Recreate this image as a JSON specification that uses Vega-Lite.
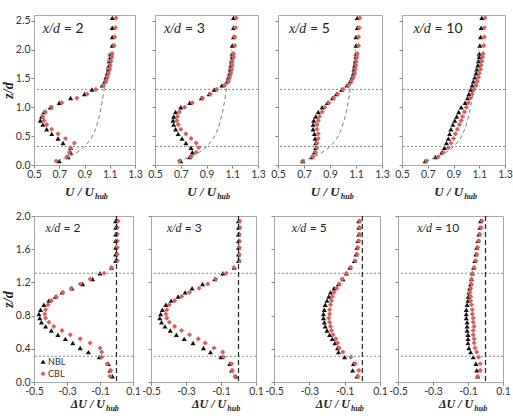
{
 "$schema": "https://vega.github.io/schema/vega-lite/v6.json",
 "padding": {"left": 0, "top": 14, "right": 0, "bottom": 2},
 "background": "white",
 "config": {
  "view": {"stroke": "#a6a6a6", "strokeWidth": 1},
  "axis": {"grid": false, "domainColor": "#a6a6a6", "tickColor": "#808080", "tickSize": 3, "labelFont": "Lato", "labelFontSize": 10.5, "labelColor": "#333333", "labelFlush": false, "labelOverlap": false, "labelBound": false, "labelPadding": 1, "titleFont": "Liberation Serif", "titleFontStyle": "italic", "titleFontWeight": "bold", "titleFontSize": 14, "titleColor": "#222222", "titlePadding": 0},
  "point": {"filled": true, "opacity": 1, "size": 26},
  "text": {"color": "#222222"}
 },
 "datasets": {
  "inflow": [
   {"v":0.68,"z":0.07},{"v":0.75,"z":0.12},{"v":0.82,"z":0.19},{"v":0.87,"z":0.26},{"v":0.91,"z":0.34},{"v":0.95,"z":0.45},{"v":0.98,"z":0.58},{"v":1.005,"z":0.74},{"v":1.025,"z":0.92},{"v":1.04,"z":1.1},{"v":1.055,"z":1.3},{"v":1.065,"z":1.5},{"v":1.08,"z":1.75},{"v":1.095,"z":2.0}
  ],
  "top": [
   {"p":1,"s":"NBL","z":0.07,"v":0.70},{"p":1,"s":"NBL","z":0.14,"v":0.77},{"p":1,"s":"NBL","z":0.22,"v":0.79},{"p":1,"s":"NBL","z":0.30,"v":0.79},{"p":1,"s":"NBL","z":0.38,"v":0.73},{"p":1,"s":"NBL","z":0.46,"v":0.69},{"p":1,"s":"NBL","z":0.54,"v":0.64},{"p":1,"s":"NBL","z":0.62,"v":0.60},{"p":1,"s":"NBL","z":0.70,"v":0.57},{"p":1,"s":"NBL","z":0.77,"v":0.55},{"p":1,"s":"NBL","z":0.84,"v":0.56},{"p":1,"s":"NBL","z":0.92,"v":0.58},{"p":1,"s":"NBL","z":1.00,"v":0.63},{"p":1,"s":"NBL","z":1.08,"v":0.70},{"p":1,"s":"NBL","z":1.16,"v":0.79},{"p":1,"s":"NBL","z":1.23,"v":0.90},{"p":1,"s":"NBL","z":1.31,"v":0.96},{"p":1,"s":"NBL","z":1.38,"v":1.04},{"p":1,"s":"NBL","z":1.45,"v":1.06},{"p":1,"s":"NBL","z":1.52,"v":1.07},{"p":1,"s":"NBL","z":1.59,"v":1.08},{"p":1,"s":"NBL","z":1.66,"v":1.09},{"p":1,"s":"NBL","z":1.73,"v":1.095},{"p":1,"s":"NBL","z":1.80,"v":1.10},{"p":1,"s":"NBL","z":1.87,"v":1.105},{"p":1,"s":"NBL","z":1.93,"v":1.11},{"p":1,"s":"NBL","z":2.07,"v":1.12},{"p":1,"s":"NBL","z":2.22,"v":1.12},{"p":1,"s":"NBL","z":2.38,"v":1.12},{"p":1,"s":"NBL","z":2.55,"v":1.12},
   {"p":1,"s":"CBL","z":0.07,"v":0.675},{"p":1,"s":"CBL","z":0.14,"v":0.76},{"p":1,"s":"CBL","z":0.22,"v":0.78},{"p":1,"s":"CBL","z":0.30,"v":0.79},{"p":1,"s":"CBL","z":0.38,"v":0.82},{"p":1,"s":"CBL","z":0.46,"v":0.75},{"p":1,"s":"CBL","z":0.54,"v":0.69},{"p":1,"s":"CBL","z":0.62,"v":0.64},{"p":1,"s":"CBL","z":0.70,"v":0.60},{"p":1,"s":"CBL","z":0.77,"v":0.58},{"p":1,"s":"CBL","z":0.84,"v":0.57},{"p":1,"s":"CBL","z":0.92,"v":0.59},{"p":1,"s":"CBL","z":1.00,"v":0.64},{"p":1,"s":"CBL","z":1.08,"v":0.72},{"p":1,"s":"CBL","z":1.16,"v":0.84},{"p":1,"s":"CBL","z":1.23,"v":0.92},{"p":1,"s":"CBL","z":1.31,"v":0.99},{"p":1,"s":"CBL","z":1.38,"v":1.05},{"p":1,"s":"CBL","z":1.45,"v":1.07},{"p":1,"s":"CBL","z":1.52,"v":1.08},{"p":1,"s":"CBL","z":1.59,"v":1.09},{"p":1,"s":"CBL","z":1.66,"v":1.10},{"p":1,"s":"CBL","z":1.73,"v":1.105},{"p":1,"s":"CBL","z":1.80,"v":1.11},{"p":1,"s":"CBL","z":1.87,"v":1.115},{"p":1,"s":"CBL","z":1.93,"v":1.12},{"p":1,"s":"CBL","z":2.07,"v":1.135},{"p":1,"s":"CBL","z":2.22,"v":1.14},{"p":1,"s":"CBL","z":2.38,"v":1.145},{"p":1,"s":"CBL","z":2.55,"v":1.15},
   {"p":2,"s":"NBL","z":0.07,"v":0.70},{"p":2,"s":"NBL","z":0.14,"v":0.77},{"p":2,"s":"NBL","z":0.22,"v":0.79},{"p":2,"s":"NBL","z":0.30,"v":0.78},{"p":2,"s":"NBL","z":0.38,"v":0.74},{"p":2,"s":"NBL","z":0.46,"v":0.71},{"p":2,"s":"NBL","z":0.54,"v":0.68},{"p":2,"s":"NBL","z":0.62,"v":0.66},{"p":2,"s":"NBL","z":0.70,"v":0.645},{"p":2,"s":"NBL","z":0.77,"v":0.64},{"p":2,"s":"NBL","z":0.84,"v":0.645},{"p":2,"s":"NBL","z":0.92,"v":0.66},{"p":2,"s":"NBL","z":1.00,"v":0.70},{"p":2,"s":"NBL","z":1.08,"v":0.77},{"p":2,"s":"NBL","z":1.16,"v":0.86},{"p":2,"s":"NBL","z":1.23,"v":0.92},{"p":2,"s":"NBL","z":1.31,"v":0.96},{"p":2,"s":"NBL","z":1.38,"v":1.02},{"p":2,"s":"NBL","z":1.45,"v":1.06},{"p":2,"s":"NBL","z":1.52,"v":1.07},{"p":2,"s":"NBL","z":1.59,"v":1.08},{"p":2,"s":"NBL","z":1.66,"v":1.085},{"p":2,"s":"NBL","z":1.73,"v":1.09},{"p":2,"s":"NBL","z":1.80,"v":1.095},{"p":2,"s":"NBL","z":1.87,"v":1.10},{"p":2,"s":"NBL","z":1.93,"v":1.10},{"p":2,"s":"NBL","z":2.07,"v":1.10},{"p":2,"s":"NBL","z":2.22,"v":1.11},{"p":2,"s":"NBL","z":2.38,"v":1.11},{"p":2,"s":"NBL","z":2.55,"v":1.11},
   {"p":2,"s":"CBL","z":0.07,"v":0.69},{"p":2,"s":"CBL","z":0.14,"v":0.78},{"p":2,"s":"CBL","z":0.22,"v":0.82},{"p":2,"s":"CBL","z":0.30,"v":0.84},{"p":2,"s":"CBL","z":0.38,"v":0.82},{"p":2,"s":"CBL","z":0.46,"v":0.78},{"p":2,"s":"CBL","z":0.54,"v":0.74},{"p":2,"s":"CBL","z":0.62,"v":0.70},{"p":2,"s":"CBL","z":0.70,"v":0.68},{"p":2,"s":"CBL","z":0.77,"v":0.67},{"p":2,"s":"CBL","z":0.84,"v":0.675},{"p":2,"s":"CBL","z":0.92,"v":0.69},{"p":2,"s":"CBL","z":1.00,"v":0.73},{"p":2,"s":"CBL","z":1.08,"v":0.79},{"p":2,"s":"CBL","z":1.16,"v":0.87},{"p":2,"s":"CBL","z":1.23,"v":0.93},{"p":2,"s":"CBL","z":1.31,"v":0.98},{"p":2,"s":"CBL","z":1.38,"v":1.04},{"p":2,"s":"CBL","z":1.45,"v":1.07},{"p":2,"s":"CBL","z":1.52,"v":1.08},{"p":2,"s":"CBL","z":1.59,"v":1.09},{"p":2,"s":"CBL","z":1.66,"v":1.095},{"p":2,"s":"CBL","z":1.73,"v":1.10},{"p":2,"s":"CBL","z":1.80,"v":1.10},{"p":2,"s":"CBL","z":1.87,"v":1.11},{"p":2,"s":"CBL","z":1.93,"v":1.11},{"p":2,"s":"CBL","z":2.07,"v":1.12},{"p":2,"s":"CBL","z":2.22,"v":1.12},{"p":2,"s":"CBL","z":2.38,"v":1.125},{"p":2,"s":"CBL","z":2.55,"v":1.13},
   {"p":3,"s":"NBL","z":0.07,"v":0.69},{"p":3,"s":"NBL","z":0.14,"v":0.76},{"p":3,"s":"NBL","z":0.22,"v":0.78},{"p":3,"s":"NBL","z":0.30,"v":0.79},{"p":3,"s":"NBL","z":0.38,"v":0.79},{"p":3,"s":"NBL","z":0.46,"v":0.785},{"p":3,"s":"NBL","z":0.54,"v":0.78},{"p":3,"s":"NBL","z":0.62,"v":0.77},{"p":3,"s":"NBL","z":0.70,"v":0.77},{"p":3,"s":"NBL","z":0.77,"v":0.775},{"p":3,"s":"NBL","z":0.84,"v":0.79},{"p":3,"s":"NBL","z":0.92,"v":0.81},{"p":3,"s":"NBL","z":1.00,"v":0.84},{"p":3,"s":"NBL","z":1.08,"v":0.88},{"p":3,"s":"NBL","z":1.16,"v":0.92},{"p":3,"s":"NBL","z":1.23,"v":0.95},{"p":3,"s":"NBL","z":1.31,"v":0.99},{"p":3,"s":"NBL","z":1.38,"v":1.03},{"p":3,"s":"NBL","z":1.45,"v":1.055},{"p":3,"s":"NBL","z":1.52,"v":1.07},{"p":3,"s":"NBL","z":1.59,"v":1.08},{"p":3,"s":"NBL","z":1.66,"v":1.085},{"p":3,"s":"NBL","z":1.73,"v":1.09},{"p":3,"s":"NBL","z":1.80,"v":1.095},{"p":3,"s":"NBL","z":1.87,"v":1.10},{"p":3,"s":"NBL","z":1.93,"v":1.10},{"p":3,"s":"NBL","z":2.07,"v":1.10},{"p":3,"s":"NBL","z":2.22,"v":1.10},{"p":3,"s":"NBL","z":2.38,"v":1.11},{"p":3,"s":"NBL","z":2.55,"v":1.11},
   {"p":3,"s":"CBL","z":0.07,"v":0.69},{"p":3,"s":"CBL","z":0.14,"v":0.77},{"p":3,"s":"CBL","z":0.22,"v":0.79},{"p":3,"s":"CBL","z":0.30,"v":0.80},{"p":3,"s":"CBL","z":0.38,"v":0.80},{"p":3,"s":"CBL","z":0.46,"v":0.81},{"p":3,"s":"CBL","z":0.54,"v":0.81},{"p":3,"s":"CBL","z":0.62,"v":0.80},{"p":3,"s":"CBL","z":0.70,"v":0.80},{"p":3,"s":"CBL","z":0.77,"v":0.81},{"p":3,"s":"CBL","z":0.84,"v":0.82},{"p":3,"s":"CBL","z":0.92,"v":0.84},{"p":3,"s":"CBL","z":1.00,"v":0.86},{"p":3,"s":"CBL","z":1.08,"v":0.89},{"p":3,"s":"CBL","z":1.16,"v":0.93},{"p":3,"s":"CBL","z":1.23,"v":0.96},{"p":3,"s":"CBL","z":1.31,"v":1.00},{"p":3,"s":"CBL","z":1.38,"v":1.04},{"p":3,"s":"CBL","z":1.45,"v":1.065},{"p":3,"s":"CBL","z":1.52,"v":1.08},{"p":3,"s":"CBL","z":1.59,"v":1.09},{"p":3,"s":"CBL","z":1.66,"v":1.095},{"p":3,"s":"CBL","z":1.73,"v":1.10},{"p":3,"s":"CBL","z":1.80,"v":1.10},{"p":3,"s":"CBL","z":1.87,"v":1.105},{"p":3,"s":"CBL","z":1.93,"v":1.11},{"p":3,"s":"CBL","z":2.07,"v":1.12},{"p":3,"s":"CBL","z":2.22,"v":1.12},{"p":3,"s":"CBL","z":2.38,"v":1.125},{"p":3,"s":"CBL","z":2.55,"v":1.13},
   {"p":4,"s":"NBL","z":0.07,"v":0.68},{"p":4,"s":"NBL","z":0.14,"v":0.76},{"p":4,"s":"NBL","z":0.22,"v":0.81},{"p":4,"s":"NBL","z":0.30,"v":0.83},{"p":4,"s":"NBL","z":0.38,"v":0.845},{"p":4,"s":"NBL","z":0.46,"v":0.86},{"p":4,"s":"NBL","z":0.54,"v":0.87},{"p":4,"s":"NBL","z":0.62,"v":0.88},{"p":4,"s":"NBL","z":0.70,"v":0.895},{"p":4,"s":"NBL","z":0.77,"v":0.91},{"p":4,"s":"NBL","z":0.84,"v":0.925},{"p":4,"s":"NBL","z":0.92,"v":0.94},{"p":4,"s":"NBL","z":1.00,"v":0.96},{"p":4,"s":"NBL","z":1.08,"v":0.99},{"p":4,"s":"NBL","z":1.16,"v":1.01},{"p":4,"s":"NBL","z":1.23,"v":1.02},{"p":4,"s":"NBL","z":1.31,"v":1.035},{"p":4,"s":"NBL","z":1.38,"v":1.045},{"p":4,"s":"NBL","z":1.45,"v":1.055},{"p":4,"s":"NBL","z":1.52,"v":1.065},{"p":4,"s":"NBL","z":1.59,"v":1.075},{"p":4,"s":"NBL","z":1.66,"v":1.08},{"p":4,"s":"NBL","z":1.73,"v":1.09},{"p":4,"s":"NBL","z":1.80,"v":1.095},{"p":4,"s":"NBL","z":1.87,"v":1.10},{"p":4,"s":"NBL","z":1.93,"v":1.10},{"p":4,"s":"NBL","z":2.07,"v":1.105},{"p":4,"s":"NBL","z":2.22,"v":1.11},{"p":4,"s":"NBL","z":2.38,"v":1.115},{"p":4,"s":"NBL","z":2.55,"v":1.12},
   {"p":4,"s":"CBL","z":0.07,"v":0.69},{"p":4,"s":"CBL","z":0.14,"v":0.78},{"p":4,"s":"CBL","z":0.22,"v":0.82},{"p":4,"s":"CBL","z":0.30,"v":0.86},{"p":4,"s":"CBL","z":0.38,"v":0.88},{"p":4,"s":"CBL","z":0.46,"v":0.90},{"p":4,"s":"CBL","z":0.54,"v":0.915},{"p":4,"s":"CBL","z":0.62,"v":0.93},{"p":4,"s":"CBL","z":0.70,"v":0.945},{"p":4,"s":"CBL","z":0.77,"v":0.96},{"p":4,"s":"CBL","z":0.84,"v":0.97},{"p":4,"s":"CBL","z":0.92,"v":0.985},{"p":4,"s":"CBL","z":1.00,"v":1.0},{"p":4,"s":"CBL","z":1.08,"v":1.015},{"p":4,"s":"CBL","z":1.16,"v":1.03},{"p":4,"s":"CBL","z":1.23,"v":1.045},{"p":4,"s":"CBL","z":1.31,"v":1.06},{"p":4,"s":"CBL","z":1.38,"v":1.075},{"p":4,"s":"CBL","z":1.45,"v":1.085},{"p":4,"s":"CBL","z":1.52,"v":1.095},{"p":4,"s":"CBL","z":1.59,"v":1.10},{"p":4,"s":"CBL","z":1.66,"v":1.11},{"p":4,"s":"CBL","z":1.73,"v":1.115},{"p":4,"s":"CBL","z":1.80,"v":1.12},{"p":4,"s":"CBL","z":1.87,"v":1.125},{"p":4,"s":"CBL","z":1.93,"v":1.13},{"p":4,"s":"CBL","z":2.07,"v":1.135},{"p":4,"s":"CBL","z":2.22,"v":1.14},{"p":4,"s":"CBL","z":2.38,"v":1.14},{"p":4,"s":"CBL","z":2.55,"v":1.145}
  ],
  "bot": [
   {"p":1,"s":"NBL","z":0.07,"v":-0.025},{"p":1,"s":"NBL","z":0.14,"v":-0.04},{"p":1,"s":"NBL","z":0.22,"v":-0.05},{"p":1,"s":"NBL","z":0.30,"v":-0.105},{"p":1,"s":"NBL","z":0.36,"v":-0.17},{"p":1,"s":"NBL","z":0.41,"v":-0.22},{"p":1,"s":"NBL","z":0.47,"v":-0.265},{"p":1,"s":"NBL","z":0.52,"v":-0.31},{"p":1,"s":"NBL","z":0.57,"v":-0.355},{"p":1,"s":"NBL","z":0.62,"v":-0.395},{"p":1,"s":"NBL","z":0.67,"v":-0.43},{"p":1,"s":"NBL","z":0.72,"v":-0.455},{"p":1,"s":"NBL","z":0.77,"v":-0.465},{"p":1,"s":"NBL","z":0.82,"v":-0.47},{"p":1,"s":"NBL","z":0.87,"v":-0.46},{"p":1,"s":"NBL","z":0.93,"v":-0.44},{"p":1,"s":"NBL","z":0.98,"v":-0.41},{"p":1,"s":"NBL","z":1.03,"v":-0.37},{"p":1,"s":"NBL","z":1.08,"v":-0.33},{"p":1,"s":"NBL","z":1.13,"v":-0.27},{"p":1,"s":"NBL","z":1.18,"v":-0.205},{"p":1,"s":"NBL","z":1.24,"v":-0.145},{"p":1,"s":"NBL","z":1.31,"v":-0.10},{"p":1,"s":"NBL","z":1.38,"v":-0.03},{"p":1,"s":"NBL","z":1.46,"v":-0.005},{"p":1,"s":"NBL","z":1.54,"v":-0.005},{"p":1,"s":"NBL","z":1.62,"v":-0.005},{"p":1,"s":"NBL","z":1.70,"v":-0.005},{"p":1,"s":"NBL","z":1.78,"v":-0.005},{"p":1,"s":"NBL","z":1.86,"v":-0.005},{"p":1,"s":"NBL","z":1.94,"v":-0.005},
   {"p":1,"s":"CBL","z":0.07,"v":-0.04},{"p":1,"s":"CBL","z":0.14,"v":-0.035},{"p":1,"s":"CBL","z":0.22,"v":-0.055},{"p":1,"s":"CBL","z":0.30,"v":-0.09},{"p":1,"s":"CBL","z":0.36,"v":-0.09},{"p":1,"s":"CBL","z":0.41,"v":-0.10},{"p":1,"s":"CBL","z":0.47,"v":-0.16},{"p":1,"s":"CBL","z":0.52,"v":-0.22},{"p":1,"s":"CBL","z":0.57,"v":-0.28},{"p":1,"s":"CBL","z":0.62,"v":-0.33},{"p":1,"s":"CBL","z":0.67,"v":-0.38},{"p":1,"s":"CBL","z":0.72,"v":-0.41},{"p":1,"s":"CBL","z":0.77,"v":-0.43},{"p":1,"s":"CBL","z":0.82,"v":-0.435},{"p":1,"s":"CBL","z":0.87,"v":-0.43},{"p":1,"s":"CBL","z":0.93,"v":-0.415},{"p":1,"s":"CBL","z":0.98,"v":-0.395},{"p":1,"s":"CBL","z":1.03,"v":-0.365},{"p":1,"s":"CBL","z":1.08,"v":-0.325},{"p":1,"s":"CBL","z":1.13,"v":-0.275},{"p":1,"s":"CBL","z":1.18,"v":-0.22},{"p":1,"s":"CBL","z":1.24,"v":-0.16},{"p":1,"s":"CBL","z":1.31,"v":-0.075},{"p":1,"s":"CBL","z":1.38,"v":-0.03},{"p":1,"s":"CBL","z":1.46,"v":0.005},{"p":1,"s":"CBL","z":1.54,"v":0.005},{"p":1,"s":"CBL","z":1.62,"v":0.005},{"p":1,"s":"CBL","z":1.70,"v":0.005},{"p":1,"s":"CBL","z":1.78,"v":0.005},{"p":1,"s":"CBL","z":1.86,"v":0.005},{"p":1,"s":"CBL","z":1.94,"v":0.01},
   {"p":2,"s":"NBL","z":0.07,"v":-0.015},{"p":2,"s":"NBL","z":0.14,"v":-0.04},{"p":2,"s":"NBL","z":0.22,"v":-0.05},{"p":2,"s":"NBL","z":0.30,"v":-0.10},{"p":2,"s":"NBL","z":0.36,"v":-0.16},{"p":2,"s":"NBL","z":0.41,"v":-0.20},{"p":2,"s":"NBL","z":0.47,"v":-0.26},{"p":2,"s":"NBL","z":0.52,"v":-0.31},{"p":2,"s":"NBL","z":0.57,"v":-0.355},{"p":2,"s":"NBL","z":0.62,"v":-0.39},{"p":2,"s":"NBL","z":0.67,"v":-0.42},{"p":2,"s":"NBL","z":0.72,"v":-0.44},{"p":2,"s":"NBL","z":0.77,"v":-0.45},{"p":2,"s":"NBL","z":0.82,"v":-0.445},{"p":2,"s":"NBL","z":0.87,"v":-0.435},{"p":2,"s":"NBL","z":0.93,"v":-0.415},{"p":2,"s":"NBL","z":0.98,"v":-0.385},{"p":2,"s":"NBL","z":1.03,"v":-0.345},{"p":2,"s":"NBL","z":1.08,"v":-0.305},{"p":2,"s":"NBL","z":1.13,"v":-0.265},{"p":2,"s":"NBL","z":1.18,"v":-0.205},{"p":2,"s":"NBL","z":1.24,"v":-0.135},{"p":2,"s":"NBL","z":1.31,"v":-0.09},{"p":2,"s":"NBL","z":1.38,"v":-0.025},{"p":2,"s":"NBL","z":1.46,"v":0.0},{"p":2,"s":"NBL","z":1.54,"v":0.0},{"p":2,"s":"NBL","z":1.62,"v":0.0},{"p":2,"s":"NBL","z":1.70,"v":0.0},{"p":2,"s":"NBL","z":1.78,"v":0.0},{"p":2,"s":"NBL","z":1.86,"v":0.0},{"p":2,"s":"NBL","z":1.94,"v":0.0},
   {"p":2,"s":"CBL","z":0.07,"v":-0.02},{"p":2,"s":"CBL","z":0.14,"v":-0.035},{"p":2,"s":"CBL","z":0.22,"v":-0.04},{"p":2,"s":"CBL","z":0.30,"v":-0.085},{"p":2,"s":"CBL","z":0.36,"v":-0.09},{"p":2,"s":"CBL","z":0.41,"v":-0.14},{"p":2,"s":"CBL","z":0.47,"v":-0.19},{"p":2,"s":"CBL","z":0.52,"v":-0.23},{"p":2,"s":"CBL","z":0.57,"v":-0.28},{"p":2,"s":"CBL","z":0.62,"v":-0.325},{"p":2,"s":"CBL","z":0.67,"v":-0.365},{"p":2,"s":"CBL","z":0.72,"v":-0.395},{"p":2,"s":"CBL","z":0.77,"v":-0.41},{"p":2,"s":"CBL","z":0.82,"v":-0.415},{"p":2,"s":"CBL","z":0.87,"v":-0.41},{"p":2,"s":"CBL","z":0.93,"v":-0.395},{"p":2,"s":"CBL","z":0.98,"v":-0.365},{"p":2,"s":"CBL","z":1.03,"v":-0.325},{"p":2,"s":"CBL","z":1.08,"v":-0.28},{"p":2,"s":"CBL","z":1.13,"v":-0.225},{"p":2,"s":"CBL","z":1.18,"v":-0.175},{"p":2,"s":"CBL","z":1.24,"v":-0.13},{"p":2,"s":"CBL","z":1.31,"v":-0.07},{"p":2,"s":"CBL","z":1.38,"v":-0.025},{"p":2,"s":"CBL","z":1.46,"v":0.005},{"p":2,"s":"CBL","z":1.54,"v":0.005},{"p":2,"s":"CBL","z":1.62,"v":0.005},{"p":2,"s":"CBL","z":1.70,"v":0.005},{"p":2,"s":"CBL","z":1.78,"v":0.005},{"p":2,"s":"CBL","z":1.86,"v":0.008},{"p":2,"s":"CBL","z":1.94,"v":0.008},
   {"p":3,"s":"NBL","z":0.07,"v":-0.03},{"p":3,"s":"NBL","z":0.14,"v":-0.055},{"p":3,"s":"NBL","z":0.22,"v":-0.05},{"p":3,"s":"NBL","z":0.30,"v":-0.10},{"p":3,"s":"NBL","z":0.36,"v":-0.135},{"p":3,"s":"NBL","z":0.41,"v":-0.14},{"p":3,"s":"NBL","z":0.47,"v":-0.155},{"p":3,"s":"NBL","z":0.52,"v":-0.17},{"p":3,"s":"NBL","z":0.57,"v":-0.185},{"p":3,"s":"NBL","z":0.62,"v":-0.20},{"p":3,"s":"NBL","z":0.67,"v":-0.21},{"p":3,"s":"NBL","z":0.72,"v":-0.215},{"p":3,"s":"NBL","z":0.77,"v":-0.22},{"p":3,"s":"NBL","z":0.82,"v":-0.22},{"p":3,"s":"NBL","z":0.87,"v":-0.215},{"p":3,"s":"NBL","z":0.93,"v":-0.21},{"p":3,"s":"NBL","z":0.98,"v":-0.20},{"p":3,"s":"NBL","z":1.03,"v":-0.19},{"p":3,"s":"NBL","z":1.08,"v":-0.18},{"p":3,"s":"NBL","z":1.13,"v":-0.16},{"p":3,"s":"NBL","z":1.18,"v":-0.135},{"p":3,"s":"NBL","z":1.24,"v":-0.11},{"p":3,"s":"NBL","z":1.31,"v":-0.09},{"p":3,"s":"NBL","z":1.38,"v":-0.07},{"p":3,"s":"NBL","z":1.46,"v":-0.045},{"p":3,"s":"NBL","z":1.54,"v":-0.035},{"p":3,"s":"NBL","z":1.62,"v":-0.03},{"p":3,"s":"NBL","z":1.70,"v":-0.025},{"p":3,"s":"NBL","z":1.78,"v":-0.02},{"p":3,"s":"NBL","z":1.86,"v":-0.02},{"p":3,"s":"NBL","z":1.94,"v":-0.02},
   {"p":3,"s":"CBL","z":0.07,"v":-0.025},{"p":3,"s":"CBL","z":0.14,"v":-0.02},{"p":3,"s":"CBL","z":0.22,"v":-0.04},{"p":3,"s":"CBL","z":0.30,"v":-0.065},{"p":3,"s":"CBL","z":0.36,"v":-0.11},{"p":3,"s":"CBL","z":0.41,"v":-0.13},{"p":3,"s":"CBL","z":0.47,"v":-0.14},{"p":3,"s":"CBL","z":0.52,"v":-0.15},{"p":3,"s":"CBL","z":0.57,"v":-0.165},{"p":3,"s":"CBL","z":0.62,"v":-0.175},{"p":3,"s":"CBL","z":0.67,"v":-0.18},{"p":3,"s":"CBL","z":0.72,"v":-0.185},{"p":3,"s":"CBL","z":0.77,"v":-0.19},{"p":3,"s":"CBL","z":0.82,"v":-0.185},{"p":3,"s":"CBL","z":0.87,"v":-0.185},{"p":3,"s":"CBL","z":0.93,"v":-0.18},{"p":3,"s":"CBL","z":0.98,"v":-0.175},{"p":3,"s":"CBL","z":1.03,"v":-0.17},{"p":3,"s":"CBL","z":1.08,"v":-0.16},{"p":3,"s":"CBL","z":1.13,"v":-0.145},{"p":3,"s":"CBL","z":1.18,"v":-0.13},{"p":3,"s":"CBL","z":1.24,"v":-0.115},{"p":3,"s":"CBL","z":1.31,"v":-0.09},{"p":3,"s":"CBL","z":1.38,"v":-0.065},{"p":3,"s":"CBL","z":1.46,"v":-0.04},{"p":3,"s":"CBL","z":1.54,"v":-0.03},{"p":3,"s":"CBL","z":1.62,"v":-0.025},{"p":3,"s":"CBL","z":1.70,"v":-0.02},{"p":3,"s":"CBL","z":1.78,"v":-0.015},{"p":3,"s":"CBL","z":1.86,"v":-0.015},{"p":3,"s":"CBL","z":1.94,"v":-0.015},
   {"p":4,"s":"NBL","z":0.07,"v":-0.045},{"p":4,"s":"NBL","z":0.14,"v":-0.05},{"p":4,"s":"NBL","z":0.22,"v":-0.055},{"p":4,"s":"NBL","z":0.30,"v":-0.07},{"p":4,"s":"NBL","z":0.36,"v":-0.085},{"p":4,"s":"NBL","z":0.41,"v":-0.095},{"p":4,"s":"NBL","z":0.47,"v":-0.10},{"p":4,"s":"NBL","z":0.52,"v":-0.10},{"p":4,"s":"NBL","z":0.57,"v":-0.10},{"p":4,"s":"NBL","z":0.62,"v":-0.105},{"p":4,"s":"NBL","z":0.67,"v":-0.105},{"p":4,"s":"NBL","z":0.72,"v":-0.105},{"p":4,"s":"NBL","z":0.77,"v":-0.11},{"p":4,"s":"NBL","z":0.82,"v":-0.11},{"p":4,"s":"NBL","z":0.87,"v":-0.11},{"p":4,"s":"NBL","z":0.93,"v":-0.105},{"p":4,"s":"NBL","z":0.98,"v":-0.10},{"p":4,"s":"NBL","z":1.03,"v":-0.098},{"p":4,"s":"NBL","z":1.08,"v":-0.094},{"p":4,"s":"NBL","z":1.13,"v":-0.09},{"p":4,"s":"NBL","z":1.18,"v":-0.085},{"p":4,"s":"NBL","z":1.24,"v":-0.08},{"p":4,"s":"NBL","z":1.31,"v":-0.075},{"p":4,"s":"NBL","z":1.38,"v":-0.068},{"p":4,"s":"NBL","z":1.46,"v":-0.06},{"p":4,"s":"NBL","z":1.54,"v":-0.055},{"p":4,"s":"NBL","z":1.62,"v":-0.05},{"p":4,"s":"NBL","z":1.70,"v":-0.043},{"p":4,"s":"NBL","z":1.78,"v":-0.038},{"p":4,"s":"NBL","z":1.86,"v":-0.032},{"p":4,"s":"NBL","z":1.94,"v":-0.028},
   {"p":4,"s":"CBL","z":0.07,"v":-0.045},{"p":4,"s":"CBL","z":0.14,"v":-0.03},{"p":4,"s":"CBL","z":0.22,"v":-0.03},{"p":4,"s":"CBL","z":0.30,"v":-0.04},{"p":4,"s":"CBL","z":0.36,"v":-0.05},{"p":4,"s":"CBL","z":0.41,"v":-0.06},{"p":4,"s":"CBL","z":0.47,"v":-0.065},{"p":4,"s":"CBL","z":0.52,"v":-0.065},{"p":4,"s":"CBL","z":0.57,"v":-0.07},{"p":4,"s":"CBL","z":0.62,"v":-0.07},{"p":4,"s":"CBL","z":0.67,"v":-0.065},{"p":4,"s":"CBL","z":0.72,"v":-0.07},{"p":4,"s":"CBL","z":0.77,"v":-0.07},{"p":4,"s":"CBL","z":0.82,"v":-0.075},{"p":4,"s":"CBL","z":0.87,"v":-0.075},{"p":4,"s":"CBL","z":0.93,"v":-0.08},{"p":4,"s":"CBL","z":0.98,"v":-0.085},{"p":4,"s":"CBL","z":1.03,"v":-0.085},{"p":4,"s":"CBL","z":1.08,"v":-0.09},{"p":4,"s":"CBL","z":1.13,"v":-0.085},{"p":4,"s":"CBL","z":1.18,"v":-0.08},{"p":4,"s":"CBL","z":1.24,"v":-0.08},{"p":4,"s":"CBL","z":1.31,"v":-0.075},{"p":4,"s":"CBL","z":1.38,"v":-0.065},{"p":4,"s":"CBL","z":1.46,"v":-0.055},{"p":4,"s":"CBL","z":1.54,"v":-0.05},{"p":4,"s":"CBL","z":1.62,"v":-0.045},{"p":4,"s":"CBL","z":1.70,"v":-0.038},{"p":4,"s":"CBL","z":1.78,"v":-0.032},{"p":4,"s":"CBL","z":1.86,"v":-0.025},{"p":4,"s":"CBL","z":1.94,"v":-0.02}
  ]
 },
 "vconcat": [
  {"spacing": 4, "hconcat": [
   {"width": 101, "height": 150, "layer": [
    {"data": {"name": "top"}, "transform": [{"filter": "datum.p == 1"}], "mark": {"type": "point", "filled": true, "size": 26}, "encoding": {"x": {"field": "v", "type": "quantitative", "scale": {"domain": [0.5, 1.3], "nice": false, "zero": false}, "axis": {"title": null, "values": [0.5, 0.7, 0.9, 1.1, 1.3], "labelOverlap": false, "labelExpr": "format(datum.value,'.1f')"}}, "y": {"field": "z", "type": "quantitative", "scale": {"domain": [0, 2.6], "nice": false, "zero": false}, "axis": {"title": "z/d", "values": [0, 0.5, 1, 1.5, 2, 2.5], "labelOverlap": false, "labelExpr": "format(datum.value,'.1f')"}}, "shape": {"field": "s", "type": "nominal", "scale": {"domain": ["NBL", "CBL"], "range": ["triangle-up", "diamond"]}, "legend": null}, "color": {"field": "s", "type": "nominal", "scale": {"domain": ["NBL", "CBL"], "range": ["#111111", "#d8605c"]}, "legend": null}}},
    {"data": {"name": "inflow"}, "mark": {"type": "line", "color": "#6e6e6e", "strokeDash": [4, 3], "strokeWidth": 0.9}, "encoding": {"x": {"field": "v", "type": "quantitative", "axis": {"title": null, "values": [0.5, 0.7, 0.9, 1.1, 1.3], "labelOverlap": false, "labelExpr": "format(datum.value,'.1f')"}}, "y": {"field": "z", "type": "quantitative", "axis": {"title": "z/d", "values": [0, 0.5, 1, 1.5, 2, 2.5], "labelOverlap": false, "labelExpr": "format(datum.value,'.1f')"}}, "order": {"field": "z", "type": "quantitative"}}},
    {"data": {"values": [{"z": 0.32}, {"z": 1.31}]}, "mark": {"type": "rule", "color": "#8c8c8c", "strokeDash": [2, 2], "strokeWidth": 1}, "encoding": {"y": {"field": "z", "type": "quantitative", "axis": {"title": "z/d", "values": [0, 0.5, 1, 1.5, 2, 2.5], "labelOverlap": false, "labelExpr": "format(datum.value,'.1f')"}}}},
    {"data": {"values": [{"v": 0.57, "z": 2.29, "a": "x/d", "b": "= 2"}]}, "encoding": {"x": {"field": "v", "type": "quantitative", "axis": {"title": null, "values": [0.5, 0.7, 0.9, 1.1, 1.3], "labelOverlap": false, "labelExpr": "format(datum.value,'.1f')"}}, "y": {"field": "z", "type": "quantitative", "axis": {"title": "z/d", "values": [0, 0.5, 1, 1.5, 2, 2.5], "labelOverlap": false, "labelExpr": "format(datum.value,'.1f')"}}}, "layer": [
     {"mark": {"type": "text", "font": "Liberation Serif", "fontStyle": "italic", "fontSize": 14, "align": "left", "baseline": "alphabetic"}, "encoding": {"text": {"field": "a"}}},
     {"mark": {"type": "text", "font": "Lato", "fontSize": 14, "align": "left", "baseline": "alphabetic", "dx": 21}, "encoding": {"text": {"field": "b"}}}
    ]},
    {"data": {"values": [{"v": 0.975, "z": 0, "a": "U / U", "b": "hub"}]}, "encoding": {"x": {"field": "v", "type": "quantitative", "axis": {"title": null, "values": [0.5, 0.7, 0.9, 1.1, 1.3], "labelOverlap": false, "labelExpr": "format(datum.value,'.1f')"}}, "y": {"field": "z", "type": "quantitative", "axis": {"title": "z/d", "values": [0, 0.5, 1, 1.5, 2, 2.5], "labelOverlap": false, "labelExpr": "format(datum.value,'.1f')"}}}, "layer": [
     {"mark": {"type": "text", "font": "Liberation Serif", "fontStyle": "italic", "fontWeight": "bold", "fontSize": 13, "align": "right", "baseline": "alphabetic", "dy": 31}, "encoding": {"text": {"field": "a"}}},
     {"mark": {"type": "text", "font": "Liberation Serif", "fontStyle": "italic", "fontWeight": "bold", "fontSize": 8, "align": "left", "baseline": "alphabetic", "dx": 1, "dy": 34}, "encoding": {"text": {"field": "b"}}}
    ]}
   ]},
   {"width": 103, "height": 150, "layer": [
    {"data": {"name": "top"}, "transform": [{"filter": "datum.p == 2"}], "mark": {"type": "point", "filled": true, "size": 26}, "encoding": {"x": {"field": "v", "type": "quantitative", "scale": {"domain": [0.5, 1.3], "nice": false, "zero": false}, "axis": {"title": null, "values": [0.5, 0.7, 0.9, 1.1, 1.3], "labelOverlap": false, "labelExpr": "format(datum.value,'.1f')"}}, "y": {"field": "z", "type": "quantitative", "scale": {"domain": [0, 2.6], "nice": false, "zero": false}, "axis": {"title": null, "labels": false, "values": [0, 0.5, 1, 1.5, 2, 2.5]}}, "shape": {"field": "s", "type": "nominal", "scale": {"domain": ["NBL", "CBL"], "range": ["triangle-up", "diamond"]}, "legend": null}, "color": {"field": "s", "type": "nominal", "scale": {"domain": ["NBL", "CBL"], "range": ["#111111", "#d8605c"]}, "legend": null}}},
    {"data": {"name": "inflow"}, "mark": {"type": "line", "color": "#6e6e6e", "strokeDash": [4, 3], "strokeWidth": 0.9}, "encoding": {"x": {"field": "v", "type": "quantitative", "axis": {"title": null, "values": [0.5, 0.7, 0.9, 1.1, 1.3], "labelOverlap": false, "labelExpr": "format(datum.value,'.1f')"}}, "y": {"field": "z", "type": "quantitative", "axis": {"title": null, "labels": false, "values": [0, 0.5, 1, 1.5, 2, 2.5]}}, "order": {"field": "z", "type": "quantitative"}}},
    {"data": {"values": [{"z": 0.32}, {"z": 1.31}]}, "mark": {"type": "rule", "color": "#8c8c8c", "strokeDash": [2, 2], "strokeWidth": 1}, "encoding": {"y": {"field": "z", "type": "quantitative", "axis": {"title": null, "labels": false, "values": [0, 0.5, 1, 1.5, 2, 2.5]}}}},
    {"data": {"values": [{"v": 0.57, "z": 2.29, "a": "x/d", "b": "= 3"}]}, "encoding": {"x": {"field": "v", "type": "quantitative", "axis": {"title": null, "values": [0.5, 0.7, 0.9, 1.1, 1.3], "labelOverlap": false, "labelExpr": "format(datum.value,'.1f')"}}, "y": {"field": "z", "type": "quantitative", "axis": {"title": null, "labels": false, "values": [0, 0.5, 1, 1.5, 2, 2.5]}}}, "layer": [
     {"mark": {"type": "text", "font": "Liberation Serif", "fontStyle": "italic", "fontSize": 14, "align": "left", "baseline": "alphabetic"}, "encoding": {"text": {"field": "a"}}},
     {"mark": {"type": "text", "font": "Lato", "fontSize": 14, "align": "left", "baseline": "alphabetic", "dx": 21}, "encoding": {"text": {"field": "b"}}}
    ]},
    {"data": {"values": [{"v": 0.975, "z": 0, "a": "U / U", "b": "hub"}]}, "encoding": {"x": {"field": "v", "type": "quantitative", "axis": {"title": null, "values": [0.5, 0.7, 0.9, 1.1, 1.3], "labelOverlap": false, "labelExpr": "format(datum.value,'.1f')"}}, "y": {"field": "z", "type": "quantitative", "axis": {"title": null, "labels": false, "values": [0, 0.5, 1, 1.5, 2, 2.5]}}}, "layer": [
     {"mark": {"type": "text", "font": "Liberation Serif", "fontStyle": "italic", "fontWeight": "bold", "fontSize": 13, "align": "right", "baseline": "alphabetic", "dy": 31}, "encoding": {"text": {"field": "a"}}},
     {"mark": {"type": "text", "font": "Liberation Serif", "fontStyle": "italic", "fontWeight": "bold", "fontSize": 8, "align": "left", "baseline": "alphabetic", "dx": 1, "dy": 34}, "encoding": {"text": {"field": "b"}}}
    ]}
   ]},
   {"width": 104, "height": 150, "layer": [
    {"data": {"name": "top"}, "transform": [{"filter": "datum.p == 3"}], "mark": {"type": "point", "filled": true, "size": 26}, "encoding": {"x": {"field": "v", "type": "quantitative", "scale": {"domain": [0.5, 1.3], "nice": false, "zero": false}, "axis": {"title": null, "values": [0.5, 0.7, 0.9, 1.1, 1.3], "labelOverlap": false, "labelExpr": "format(datum.value,'.1f')"}}, "y": {"field": "z", "type": "quantitative", "scale": {"domain": [0, 2.6], "nice": false, "zero": false}, "axis": {"title": null, "labels": false, "values": [0, 0.5, 1, 1.5, 2, 2.5]}}, "shape": {"field": "s", "type": "nominal", "scale": {"domain": ["NBL", "CBL"], "range": ["triangle-up", "diamond"]}, "legend": null}, "color": {"field": "s", "type": "nominal", "scale": {"domain": ["NBL", "CBL"], "range": ["#111111", "#d8605c"]}, "legend": null}}},
    {"data": {"name": "inflow"}, "mark": {"type": "line", "color": "#6e6e6e", "strokeDash": [4, 3], "strokeWidth": 0.9}, "encoding": {"x": {"field": "v", "type": "quantitative", "axis": {"title": null, "values": [0.5, 0.7, 0.9, 1.1, 1.3], "labelOverlap": false, "labelExpr": "format(datum.value,'.1f')"}}, "y": {"field": "z", "type": "quantitative", "axis": {"title": null, "labels": false, "values": [0, 0.5, 1, 1.5, 2, 2.5]}}, "order": {"field": "z", "type": "quantitative"}}},
    {"data": {"values": [{"z": 0.32}, {"z": 1.31}]}, "mark": {"type": "rule", "color": "#8c8c8c", "strokeDash": [2, 2], "strokeWidth": 1}, "encoding": {"y": {"field": "z", "type": "quantitative", "axis": {"title": null, "labels": false, "values": [0, 0.5, 1, 1.5, 2, 2.5]}}}},
    {"data": {"values": [{"v": 0.585, "z": 2.29, "a": "x/d", "b": "= 5"}]}, "encoding": {"x": {"field": "v", "type": "quantitative", "axis": {"title": null, "values": [0.5, 0.7, 0.9, 1.1, 1.3], "labelOverlap": false, "labelExpr": "format(datum.value,'.1f')"}}, "y": {"field": "z", "type": "quantitative", "axis": {"title": null, "labels": false, "values": [0, 0.5, 1, 1.5, 2, 2.5]}}}, "layer": [
     {"mark": {"type": "text", "font": "Liberation Serif", "fontStyle": "italic", "fontSize": 14, "align": "left", "baseline": "alphabetic"}, "encoding": {"text": {"field": "a"}}},
     {"mark": {"type": "text", "font": "Lato", "fontSize": 14, "align": "left", "baseline": "alphabetic", "dx": 21}, "encoding": {"text": {"field": "b"}}}
    ]},
    {"data": {"values": [{"v": 0.975, "z": 0, "a": "U / U", "b": "hub"}]}, "encoding": {"x": {"field": "v", "type": "quantitative", "axis": {"title": null, "values": [0.5, 0.7, 0.9, 1.1, 1.3], "labelOverlap": false, "labelExpr": "format(datum.value,'.1f')"}}, "y": {"field": "z", "type": "quantitative", "axis": {"title": null, "labels": false, "values": [0, 0.5, 1, 1.5, 2, 2.5]}}}, "layer": [
     {"mark": {"type": "text", "font": "Liberation Serif", "fontStyle": "italic", "fontWeight": "bold", "fontSize": 13, "align": "right", "baseline": "alphabetic", "dy": 31}, "encoding": {"text": {"field": "a"}}},
     {"mark": {"type": "text", "font": "Liberation Serif", "fontStyle": "italic", "fontWeight": "bold", "fontSize": 8, "align": "left", "baseline": "alphabetic", "dx": 1, "dy": 34}, "encoding": {"text": {"field": "b"}}}
    ]}
   ]},
   {"width": 103, "height": 150, "layer": [
    {"data": {"name": "top"}, "transform": [{"filter": "datum.p == 4"}], "mark": {"type": "point", "filled": true, "size": 26}, "encoding": {"x": {"field": "v", "type": "quantitative", "scale": {"domain": [0.5, 1.3], "nice": false, "zero": false}, "axis": {"title": null, "values": [0.5, 0.7, 0.9, 1.1, 1.3], "labelOverlap": false, "labelExpr": "format(datum.value,'.1f')"}}, "y": {"field": "z", "type": "quantitative", "scale": {"domain": [0, 2.6], "nice": false, "zero": false}, "axis": {"title": null, "labels": false, "values": [0, 0.5, 1, 1.5, 2, 2.5]}}, "shape": {"field": "s", "type": "nominal", "scale": {"domain": ["NBL", "CBL"], "range": ["triangle-up", "diamond"]}, "legend": null}, "color": {"field": "s", "type": "nominal", "scale": {"domain": ["NBL", "CBL"], "range": ["#111111", "#d8605c"]}, "legend": null}}},
    {"data": {"name": "inflow"}, "mark": {"type": "line", "color": "#6e6e6e", "strokeDash": [4, 3], "strokeWidth": 0.9}, "encoding": {"x": {"field": "v", "type": "quantitative", "axis": {"title": null, "values": [0.5, 0.7, 0.9, 1.1, 1.3], "labelOverlap": false, "labelExpr": "format(datum.value,'.1f')"}}, "y": {"field": "z", "type": "quantitative", "axis": {"title": null, "labels": false, "values": [0, 0.5, 1, 1.5, 2, 2.5]}}, "order": {"field": "z", "type": "quantitative"}}},
    {"data": {"values": [{"z": 0.32}, {"z": 1.31}]}, "mark": {"type": "rule", "color": "#8c8c8c", "strokeDash": [2, 2], "strokeWidth": 1}, "encoding": {"y": {"field": "z", "type": "quantitative", "axis": {"title": null, "labels": false, "values": [0, 0.5, 1, 1.5, 2, 2.5]}}}},
    {"data": {"values": [{"v": 0.59, "z": 2.29, "a": "x/d", "b": "= 10"}]}, "encoding": {"x": {"field": "v", "type": "quantitative", "axis": {"title": null, "values": [0.5, 0.7, 0.9, 1.1, 1.3], "labelOverlap": false, "labelExpr": "format(datum.value,'.1f')"}}, "y": {"field": "z", "type": "quantitative", "axis": {"title": null, "labels": false, "values": [0, 0.5, 1, 1.5, 2, 2.5]}}}, "layer": [
     {"mark": {"type": "text", "font": "Liberation Serif", "fontStyle": "italic", "fontSize": 14, "align": "left", "baseline": "alphabetic"}, "encoding": {"text": {"field": "a"}}},
     {"mark": {"type": "text", "font": "Lato", "fontSize": 14, "align": "left", "baseline": "alphabetic", "dx": 21}, "encoding": {"text": {"field": "b"}}}
    ]},
    {"data": {"values": [{"v": 0.975, "z": 0, "a": "U / U", "b": "hub"}]}, "encoding": {"x": {"field": "v", "type": "quantitative", "axis": {"title": null, "values": [0.5, 0.7, 0.9, 1.1, 1.3], "labelOverlap": false, "labelExpr": "format(datum.value,'.1f')"}}, "y": {"field": "z", "type": "quantitative", "axis": {"title": null, "labels": false, "values": [0, 0.5, 1, 1.5, 2, 2.5]}}}, "layer": [
     {"mark": {"type": "text", "font": "Liberation Serif", "fontStyle": "italic", "fontWeight": "bold", "fontSize": 13, "align": "right", "baseline": "alphabetic", "dy": 31}, "encoding": {"text": {"field": "a"}}},
     {"mark": {"type": "text", "font": "Liberation Serif", "fontStyle": "italic", "fontWeight": "bold", "fontSize": 8, "align": "left", "baseline": "alphabetic", "dx": 1, "dy": 34}, "encoding": {"text": {"field": "b"}}}
    ]}
   ]}
  ]},
  {"spacing": 0, "hconcat": [
   {"width": 99, "height": 166, "layer": [
    {"data": {"name": "bot"}, "transform": [{"filter": "datum.p == 1"}], "mark": {"type": "point", "filled": true, "size": 26}, "encoding": {"x": {"field": "v", "type": "quantitative", "scale": {"domain": [-0.5, 0.1], "nice": false, "zero": false}, "axis": {"title": null, "values": [-0.5, -0.3, -0.1, 0.1], "labelOverlap": false, "labelExpr": "replace(format(datum.value,'.1f'),'−','-')"}}, "y": {"field": "z", "type": "quantitative", "scale": {"domain": [0, 2.0], "nice": false, "zero": false}, "axis": {"title": "z/d", "values": [0, 0.4, 0.8, 1.2, 1.6, 2.0], "labelOverlap": false, "labelExpr": "format(datum.value,'.1f')"}}, "shape": {"field": "s", "type": "nominal", "scale": {"domain": ["NBL", "CBL"], "range": ["triangle-up", "diamond"]}, "legend": null}, "color": {"field": "s", "type": "nominal", "scale": {"domain": ["NBL", "CBL"], "range": ["#111111", "#d8605c"]}, "legend": null}}},
    {"data": {"values": [{"z": 0.31}, {"z": 1.31}]}, "mark": {"type": "rule", "color": "#8c8c8c", "strokeDash": [2, 2], "strokeWidth": 1}, "encoding": {"y": {"field": "z", "type": "quantitative", "axis": {"title": "z/d", "values": [0, 0.4, 0.8, 1.2, 1.6, 2.0], "labelOverlap": false, "labelExpr": "format(datum.value,'.1f')"}}}},
    {"data": {"values": [{"v": 0}]}, "mark": {"type": "rule", "color": "#222222", "strokeDash": [5, 3], "strokeWidth": 1.2}, "encoding": {"x": {"field": "v", "type": "quantitative", "axis": {"title": null, "values": [-0.5, -0.3, -0.1, 0.1], "labelOverlap": false, "labelExpr": "replace(format(datum.value,'.1f'),'−','-')"}}}},
    {"data": {"values": [{"v": -0.445, "z": 0.245, "s": "NBL", "t": "NBL"}, {"v": -0.445, "z": 0.10, "s": "CBL", "t": "CBL"}]}, "encoding": {"x": {"field": "v", "type": "quantitative", "axis": {"title": null, "values": [-0.5, -0.3, -0.1, 0.1], "labelOverlap": false, "labelExpr": "replace(format(datum.value,'.1f'),'−','-')"}}, "y": {"field": "z", "type": "quantitative", "axis": {"title": "z/d", "values": [0, 0.4, 0.8, 1.2, 1.6, 2.0], "labelOverlap": false, "labelExpr": "format(datum.value,'.1f')"}}}, "layer": [
     {"mark": {"type": "point", "filled": true, "size": 26}, "encoding": {"shape": {"field": "s", "type": "nominal", "legend": null}, "color": {"field": "s", "type": "nominal", "legend": null}}},
     {"mark": {"type": "text", "font": "Lato", "fontSize": 9, "align": "left", "baseline": "middle", "color": "#333333", "dx": 5}, "encoding": {"text": {"field": "t"}}}
    ]},
    {"data": {"values": [{"v": -0.43, "z": 1.81, "a": "x/d", "b": "= 2"}]}, "encoding": {"x": {"field": "v", "type": "quantitative", "axis": {"title": null, "values": [-0.5, -0.3, -0.1, 0.1], "labelOverlap": false, "labelExpr": "replace(format(datum.value,'.1f'),'−','-')"}}, "y": {"field": "z", "type": "quantitative", "axis": {"title": "z/d", "values": [0, 0.4, 0.8, 1.2, 1.6, 2.0], "labelOverlap": false, "labelExpr": "format(datum.value,'.1f')"}}}, "layer": [
     {"mark": {"type": "text", "font": "Liberation Serif", "fontStyle": "italic", "fontSize": 12, "align": "left", "baseline": "alphabetic"}, "encoding": {"text": {"field": "a"}}},
     {"mark": {"type": "text", "font": "Lato", "fontSize": 12, "align": "left", "baseline": "alphabetic", "dx": 18}, "encoding": {"text": {"field": "b"}}}
    ]},
    {"data": {"values": [{"v": -0.07, "z": 0, "a": "ΔU / U", "b": "hub"}]}, "encoding": {"x": {"field": "v", "type": "quantitative", "axis": {"title": null, "values": [-0.5, -0.3, -0.1, 0.1], "labelOverlap": false, "labelExpr": "replace(format(datum.value,'.1f'),'−','-')"}}, "y": {"field": "z", "type": "quantitative", "axis": {"title": "z/d", "values": [0, 0.4, 0.8, 1.2, 1.6, 2.0], "labelOverlap": false, "labelExpr": "format(datum.value,'.1f')"}}}, "layer": [
     {"mark": {"type": "text", "font": "Liberation Serif", "fontStyle": "italic", "fontWeight": "bold", "fontSize": 12, "align": "right", "baseline": "alphabetic", "dy": 26}, "encoding": {"text": {"field": "a"}}},
     {"mark": {"type": "text", "font": "Liberation Serif", "fontStyle": "italic", "fontWeight": "bold", "fontSize": 8, "align": "left", "baseline": "alphabetic", "dx": 1, "dy": 29}, "encoding": {"text": {"field": "b"}}}
    ]}
   ]},
   {"width": 105, "height": 166, "layer": [
    {"data": {"name": "bot"}, "transform": [{"filter": "datum.p == 2"}], "mark": {"type": "point", "filled": true, "size": 26}, "encoding": {"x": {"field": "v", "type": "quantitative", "scale": {"domain": [-0.5, 0.1], "nice": false, "zero": false}, "axis": {"title": null, "values": [-0.5, -0.3, -0.1, 0.1], "labelOverlap": false, "labelExpr": "replace(format(datum.value,'.1f'),'−','-')"}}, "y": {"field": "z", "type": "quantitative", "scale": {"domain": [0, 2.0], "nice": false, "zero": false}, "axis": {"title": null, "labels": false, "values": [0, 0.4, 0.8, 1.2, 1.6, 2.0]}}, "shape": {"field": "s", "type": "nominal", "scale": {"domain": ["NBL", "CBL"], "range": ["triangle-up", "diamond"]}, "legend": null}, "color": {"field": "s", "type": "nominal", "scale": {"domain": ["NBL", "CBL"], "range": ["#111111", "#d8605c"]}, "legend": null}}},
    {"data": {"values": [{"z": 0.31}, {"z": 1.31}]}, "mark": {"type": "rule", "color": "#8c8c8c", "strokeDash": [2, 2], "strokeWidth": 1}, "encoding": {"y": {"field": "z", "type": "quantitative", "axis": {"title": null, "labels": false, "values": [0, 0.4, 0.8, 1.2, 1.6, 2.0]}}}},
    {"data": {"values": [{"v": 0}]}, "mark": {"type": "rule", "color": "#222222", "strokeDash": [5, 3], "strokeWidth": 1.2}, "encoding": {"x": {"field": "v", "type": "quantitative", "axis": {"title": null, "values": [-0.5, -0.3, -0.1, 0.1], "labelOverlap": false, "labelExpr": "replace(format(datum.value,'.1f'),'−','-')"}}}},
    {"data": {"values": [{"v": -0.41, "z": 1.81, "a": "x/d", "b": "= 3"}]}, "encoding": {"x": {"field": "v", "type": "quantitative", "axis": {"title": null, "values": [-0.5, -0.3, -0.1, 0.1], "labelOverlap": false, "labelExpr": "replace(format(datum.value,'.1f'),'−','-')"}}, "y": {"field": "z", "type": "quantitative", "axis": {"title": null, "labels": false, "values": [0, 0.4, 0.8, 1.2, 1.6, 2.0]}}}, "layer": [
     {"mark": {"type": "text", "font": "Liberation Serif", "fontStyle": "italic", "fontSize": 12, "align": "left", "baseline": "alphabetic"}, "encoding": {"text": {"field": "a"}}},
     {"mark": {"type": "text", "font": "Lato", "fontSize": 12, "align": "left", "baseline": "alphabetic", "dx": 18}, "encoding": {"text": {"field": "b"}}}
    ]},
    {"data": {"values": [{"v": -0.07, "z": 0, "a": "ΔU / U", "b": "hub"}]}, "encoding": {"x": {"field": "v", "type": "quantitative", "axis": {"title": null, "values": [-0.5, -0.3, -0.1, 0.1], "labelOverlap": false, "labelExpr": "replace(format(datum.value,'.1f'),'−','-')"}}, "y": {"field": "z", "type": "quantitative", "axis": {"title": null, "labels": false, "values": [0, 0.4, 0.8, 1.2, 1.6, 2.0]}}}, "layer": [
     {"mark": {"type": "text", "font": "Liberation Serif", "fontStyle": "italic", "fontWeight": "bold", "fontSize": 12, "align": "right", "baseline": "alphabetic", "dy": 26}, "encoding": {"text": {"field": "a"}}},
     {"mark": {"type": "text", "font": "Liberation Serif", "fontStyle": "italic", "fontWeight": "bold", "fontSize": 8, "align": "left", "baseline": "alphabetic", "dx": 1, "dy": 29}, "encoding": {"text": {"field": "b"}}}
    ]}
   ]},
   {"width": 106, "height": 166, "layer": [
    {"data": {"name": "bot"}, "transform": [{"filter": "datum.p == 3"}], "mark": {"type": "point", "filled": true, "size": 26}, "encoding": {"x": {"field": "v", "type": "quantitative", "scale": {"domain": [-0.5, 0.1], "nice": false, "zero": false}, "axis": {"title": null, "values": [-0.5, -0.3, -0.1, 0.1], "labelOverlap": false, "labelExpr": "replace(format(datum.value,'.1f'),'−','-')"}}, "y": {"field": "z", "type": "quantitative", "scale": {"domain": [0, 2.0], "nice": false, "zero": false}, "axis": {"title": null, "labels": false, "values": [0, 0.4, 0.8, 1.2, 1.6, 2.0]}}, "shape": {"field": "s", "type": "nominal", "scale": {"domain": ["NBL", "CBL"], "range": ["triangle-up", "diamond"]}, "legend": null}, "color": {"field": "s", "type": "nominal", "scale": {"domain": ["NBL", "CBL"], "range": ["#111111", "#d8605c"]}, "legend": null}}},
    {"data": {"values": [{"z": 0.31}, {"z": 1.31}]}, "mark": {"type": "rule", "color": "#8c8c8c", "strokeDash": [2, 2], "strokeWidth": 1}, "encoding": {"y": {"field": "z", "type": "quantitative", "axis": {"title": null, "labels": false, "values": [0, 0.4, 0.8, 1.2, 1.6, 2.0]}}}},
    {"data": {"values": [{"v": 0}]}, "mark": {"type": "rule", "color": "#222222", "strokeDash": [5, 3], "strokeWidth": 1.2}, "encoding": {"x": {"field": "v", "type": "quantitative", "axis": {"title": null, "values": [-0.5, -0.3, -0.1, 0.1], "labelOverlap": false, "labelExpr": "replace(format(datum.value,'.1f'),'−','-')"}}}},
    {"data": {"values": [{"v": -0.40, "z": 1.81, "a": "x/d", "b": "= 5"}]}, "encoding": {"x": {"field": "v", "type": "quantitative", "axis": {"title": null, "values": [-0.5, -0.3, -0.1, 0.1], "labelOverlap": false, "labelExpr": "replace(format(datum.value,'.1f'),'−','-')"}}, "y": {"field": "z", "type": "quantitative", "axis": {"title": null, "labels": false, "values": [0, 0.4, 0.8, 1.2, 1.6, 2.0]}}}, "layer": [
     {"mark": {"type": "text", "font": "Liberation Serif", "fontStyle": "italic", "fontSize": 12, "align": "left", "baseline": "alphabetic"}, "encoding": {"text": {"field": "a"}}},
     {"mark": {"type": "text", "font": "Lato", "fontSize": 12, "align": "left", "baseline": "alphabetic", "dx": 18}, "encoding": {"text": {"field": "b"}}}
    ]},
    {"data": {"values": [{"v": -0.07, "z": 0, "a": "ΔU / U", "b": "hub"}]}, "encoding": {"x": {"field": "v", "type": "quantitative", "axis": {"title": null, "values": [-0.5, -0.3, -0.1, 0.1], "labelOverlap": false, "labelExpr": "replace(format(datum.value,'.1f'),'−','-')"}}, "y": {"field": "z", "type": "quantitative", "axis": {"title": null, "labels": false, "values": [0, 0.4, 0.8, 1.2, 1.6, 2.0]}}}, "layer": [
     {"mark": {"type": "text", "font": "Liberation Serif", "fontStyle": "italic", "fontWeight": "bold", "fontSize": 12, "align": "right", "baseline": "alphabetic", "dy": 26}, "encoding": {"text": {"field": "a"}}},
     {"mark": {"type": "text", "font": "Liberation Serif", "fontStyle": "italic", "fontWeight": "bold", "fontSize": 8, "align": "left", "baseline": "alphabetic", "dx": 1, "dy": 29}, "encoding": {"text": {"field": "b"}}}
    ]}
   ]},
   {"width": 105, "height": 166, "layer": [
    {"data": {"name": "bot"}, "transform": [{"filter": "datum.p == 4"}], "mark": {"type": "point", "filled": true, "size": 26}, "encoding": {"x": {"field": "v", "type": "quantitative", "scale": {"domain": [-0.5, 0.1], "nice": false, "zero": false}, "axis": {"title": null, "values": [-0.5, -0.3, -0.1, 0.1], "labelOverlap": false, "labelExpr": "replace(format(datum.value,'.1f'),'−','-')"}}, "y": {"field": "z", "type": "quantitative", "scale": {"domain": [0, 2.0], "nice": false, "zero": false}, "axis": {"title": null, "labels": false, "values": [0, 0.4, 0.8, 1.2, 1.6, 2.0]}}, "shape": {"field": "s", "type": "nominal", "scale": {"domain": ["NBL", "CBL"], "range": ["triangle-up", "diamond"]}, "legend": null}, "color": {"field": "s", "type": "nominal", "scale": {"domain": ["NBL", "CBL"], "range": ["#111111", "#d8605c"]}, "legend": null}}},
    {"data": {"values": [{"z": 0.31}, {"z": 1.31}]}, "mark": {"type": "rule", "color": "#8c8c8c", "strokeDash": [2, 2], "strokeWidth": 1}, "encoding": {"y": {"field": "z", "type": "quantitative", "axis": {"title": null, "labels": false, "values": [0, 0.4, 0.8, 1.2, 1.6, 2.0]}}}},
    {"data": {"values": [{"v": 0}]}, "mark": {"type": "rule", "color": "#222222", "strokeDash": [5, 3], "strokeWidth": 1.2}, "encoding": {"x": {"field": "v", "type": "quantitative", "axis": {"title": null, "values": [-0.5, -0.3, -0.1, 0.1], "labelOverlap": false, "labelExpr": "replace(format(datum.value,'.1f'),'−','-')"}}}},
    {"data": {"values": [{"v": -0.39, "z": 1.81, "a": "x/d", "b": "= 10"}]}, "encoding": {"x": {"field": "v", "type": "quantitative", "axis": {"title": null, "values": [-0.5, -0.3, -0.1, 0.1], "labelOverlap": false, "labelExpr": "replace(format(datum.value,'.1f'),'−','-')"}}, "y": {"field": "z", "type": "quantitative", "axis": {"title": null, "labels": false, "values": [0, 0.4, 0.8, 1.2, 1.6, 2.0]}}}, "layer": [
     {"mark": {"type": "text", "font": "Liberation Serif", "fontStyle": "italic", "fontSize": 12, "align": "left", "baseline": "alphabetic"}, "encoding": {"text": {"field": "a"}}},
     {"mark": {"type": "text", "font": "Lato", "fontSize": 12, "align": "left", "baseline": "alphabetic", "dx": 18}, "encoding": {"text": {"field": "b"}}}
    ]},
    {"data": {"values": [{"v": -0.07, "z": 0, "a": "ΔU / U", "b": "hub"}]}, "encoding": {"x": {"field": "v", "type": "quantitative", "axis": {"title": null, "values": [-0.5, -0.3, -0.1, 0.1], "labelOverlap": false, "labelExpr": "replace(format(datum.value,'.1f'),'−','-')"}}, "y": {"field": "z", "type": "quantitative", "axis": {"title": null, "labels": false, "values": [0, 0.4, 0.8, 1.2, 1.6, 2.0]}}}, "layer": [
     {"mark": {"type": "text", "font": "Liberation Serif", "fontStyle": "italic", "fontWeight": "bold", "fontSize": 12, "align": "right", "baseline": "alphabetic", "dy": 26}, "encoding": {"text": {"field": "a"}}},
     {"mark": {"type": "text", "font": "Liberation Serif", "fontStyle": "italic", "fontWeight": "bold", "fontSize": 8, "align": "left", "baseline": "alphabetic", "dx": 1, "dy": 29}, "encoding": {"text": {"field": "b"}}}
    ]}
   ]}
  ]}
 ],
 "spacing": 8
}
